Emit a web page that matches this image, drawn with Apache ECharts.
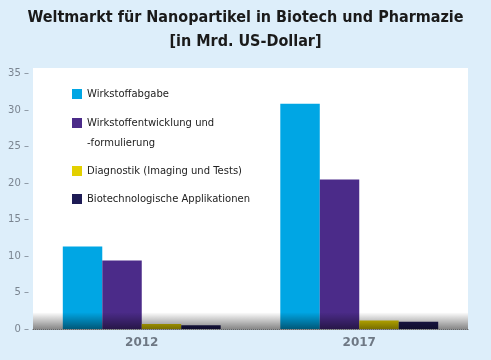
<!DOCTYPE html>
<html><head><meta charset="utf-8">
<script src="https://cdn.jsdelivr.net/npm/echarts@6/dist/echarts.min.js"></script>
<style>html,body{margin:0;padding:0;background:#ddeefa;}#c{width:491px;height:360px;}</style>
</head><body><div id="c"></div>
<script>
const categories = ['2012', '2017'];
const seriesNames = ['Wirkstoffabgabe', 'Wirkstoffentwicklung und -formulierung', 'Diagnostik (Imaging und Tests)', 'Biotechnologische Applikationen'];
const wirkstoffabgabe = [11.3, 30.9];
const wirkstoffentwicklung = [9.4, 20.5];
const diagnostik = [0.7, 1.15];
const biotech = [0.5, 1.0];
const yTicks = [0, 5, 10, 15, 20, 25, 30, 35];
const colors = ['#00a6e4', '#4b2b89', '#e3d000', '#1e1b55'];

const chart = echarts.init(document.getElementById('c'));
const values = [wirkstoffabgabe, wirkstoffentwicklung, diagnostik, biotech];
const legendTops = [88, 93, 165, 193];
const legends = seriesNames.map((n, i) => ({
  left: 72, top: legendTops[i], orient: 'vertical', padding: 0,
  itemWidth: 10, itemHeight: 10, itemGap: 0, icon: 'rect', selectedMode: false,
  data: [n],
  formatter: i === 1 ? '\u00a0\nWirkstoffentwicklung und\n-formulierung' : '{name}',
  textStyle: i === 1
    ? { fontFamily: 'DejaVu Sans', fontSize: 10, color: '#222', lineHeight: 20 }
    : { fontFamily: 'DejaVu Sans', fontSize: 10, color: '#222', lineHeight: 12 }
}));
chart.setOption({
  backgroundColor: '#ddeefa',
  animation: false,
  title: {
    text: 'Weltmarkt für Nanopartikel in Biotech und Pharmazie\n[in Mrd. US-Dollar]',
    left: 'center', top: 1,
    textStyle: { fontFamily: 'DejaVu Sans Condensed', fontWeight: 'bold', fontSize: 16, color: '#1a1a1a', lineHeight: 24 }
  },
  legend: legends,
  grid: { left: 33, right: 23, top: 68, bottom: 31, show: true, backgroundColor: '#ffffff', borderWidth: 0 },
  xAxis: {
    type: 'category', data: categories,
    axisLine: { show: true, lineStyle: { color: '#666', type: 'dotted', width: 1 } },
    axisTick: { show: false },
    axisLabel: { fontFamily: 'DejaVu Sans', fontSize: 12, color: '#6e7884', fontWeight: 'bold', margin: 8 }
  },
  yAxis: {
    type: 'value', min: 0, max: 35.8, interval: 5,
    axisLine: { show: false }, axisTick: { show: false }, splitLine: { show: false },
    axisLabel: {
      fontFamily: 'DejaVu Sans', fontSize: 10, color: '#7a8490', margin: 4,
      formatter: v => yTicks.indexOf(v) >= 0 ? v + ' –' : ''
    }
  },
  series: seriesNames.map((n, i) => ({
    name: n, type: 'bar', data: values[i], barGap: 0, barCategoryGap: '27.4%',
    itemStyle: { color: colors[i] }, z: 2
  })).concat([{
    name: 'shade', type: 'line', data: [], zlevel: 1, z: 10, silent: true,
    markArea: {
      silent: true, z: 10,
      itemStyle: { color: new echarts.graphic.LinearGradient(0, 0, 0, 1, [
        { offset: 0, color: 'rgba(0,0,0,0)' }, { offset: 1, color: 'rgba(0,0,0,0.47)' }]) },
      data: [[{ yAxis: 0 }, { yAxis: 2.3 }]]
    }
  }])
});
</script></body></html>
